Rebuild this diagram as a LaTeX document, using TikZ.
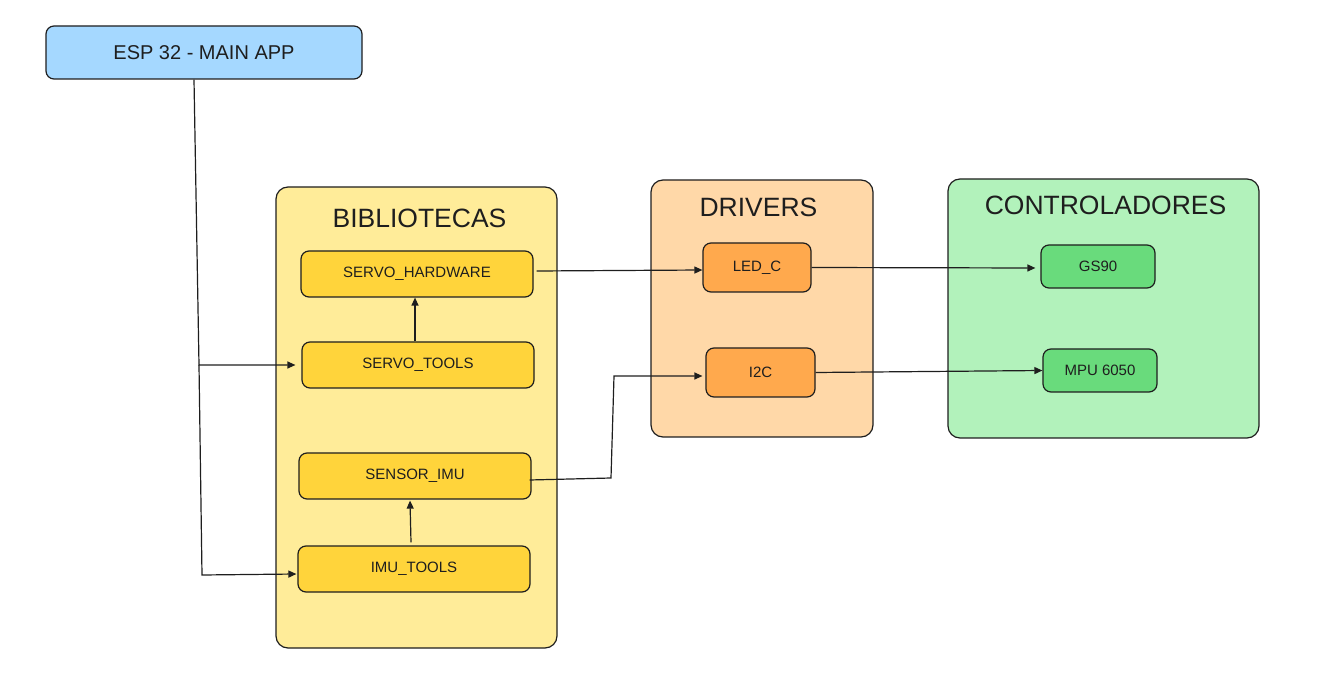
\documentclass[tikz,border=0pt]{standalone}
\usepackage{fontspec}
\setmainfont{Liberation Sans}
\usetikzlibrary{arrows.meta}
\definecolor{ink}{HTML}{1E1E1E}
\definecolor{espblue}{HTML}{A5D8FF}
\definecolor{libbg}{HTML}{FFEC99}
\definecolor{libbox}{HTML}{FFD43B}
\definecolor{drvbg}{HTML}{FFD8A8}
\definecolor{drvbox}{HTML}{FFA94D}
\definecolor{ctlbg}{HTML}{B2F2BB}
\definecolor{ctlbox}{HTML}{69DB7C}
\tikzset{
  box/.style={draw=ink, line width=1.2pt, rounded corners=8pt, inner sep=0pt, text=ink,
    font=\fontsize{15}{18}\selectfont},
  group/.style={draw=ink, line width=1.2pt, rounded corners=12pt, inner sep=0pt},
  title/.style={text=ink, inner sep=0pt, font=\fontsize{26.5}{30}\selectfont},
  arr/.style={draw=ink, line width=1.2pt, -{Triangle[length=8pt,width=7pt]}},
}
\begin{document}
\begin{tikzpicture}[x=1pt,y=-1pt]
\useasboundingbox (0,0) rectangle (1318,692);
% containers
\node[group, fill=libbg, minimum width=281pt, minimum height=461pt] (lib) at (416.5,417.5) {};
\node[group, fill=drvbg, minimum width=222pt, minimum height=257pt] (drv) at (762,308.5) {};
\node[group, fill=ctlbg, minimum width=311pt, minimum height=259pt] (ctl) at (1103.5,308.5) {};
\node[title] (libt) at (419.5,218) {BIBLIOTECAS};
\node[title] (drvt) at (758.5,207) {DRIVERS};
\node[title] (ctlt) at (1105.5,205) {CONTROLADORES};
% boxes
\node[box, fill=espblue, minimum width=316pt, minimum height=53pt, font=\fontsize{20}{24}\selectfont] (esp) at (204,52.5) {ESP 32 - MAIN APP};
\node[box, fill=libbox, minimum width=232pt, minimum height=46pt] (sh) at (417,274) {SERVO\_HARDWARE};
\node[box, fill=libbox, minimum width=232pt, minimum height=46pt] (st) at (418,365) {SERVO\_TOOLS};
\node[box, fill=libbox, minimum width=232pt, minimum height=46pt] (si) at (415,476) {SENSOR\_IMU};
\node[box, fill=libbox, minimum width=232pt, minimum height=46pt] (it) at (414,569) {IMU\_TOOLS};
\node[box, fill=drvbox, minimum width=108pt, minimum height=49pt] (led) at (757,267.5) {LED\_C};
\node[box, fill=drvbox, minimum width=109pt, minimum height=49pt] (i2c) at (760.5,372.5) {I2C};
\node[box, fill=ctlbox, minimum width=114pt, minimum height=43pt] (gs) at (1098,266.5) {GS90};
\node[box, fill=ctlbox, minimum width=114pt, minimum height=43pt] (mpu) at (1100,370.5) {MPU 6050};
% connectors
\coordinate (j1) at (199,365);
\draw[arr] ([xshift=-10pt]esp.south) -- (j1) -- ([xshift=-6pt]st.west);
\draw[arr] (j1) -- (202,575) -- ([xshift=-1pt,yshift=-5pt]it.west);
\draw[arr] ([xshift=-3pt]st.north) -- ([xshift=-2pt]sh.south);
\draw[arr] ([xshift=-3pt,yshift=3pt]it.north) -- ([xshift=-5pt,yshift=-1pt]si.south);
\draw[arr] ([xshift=3pt,yshift=3pt]sh.east) -- ([yshift=-2.5pt]led.west);
\draw[arr] ([xshift=-2pt,yshift=-4pt]si.east) -- (611,478) -- (614,376) -- ([xshift=-3pt,yshift=-3.5pt]i2c.west);
\draw[arr] (led.east) -- ([xshift=-5pt,yshift=-1.5pt]gs.west);
\draw[arr] (i2c.east) -- (mpu.west);
\end{tikzpicture}
\end{document}
